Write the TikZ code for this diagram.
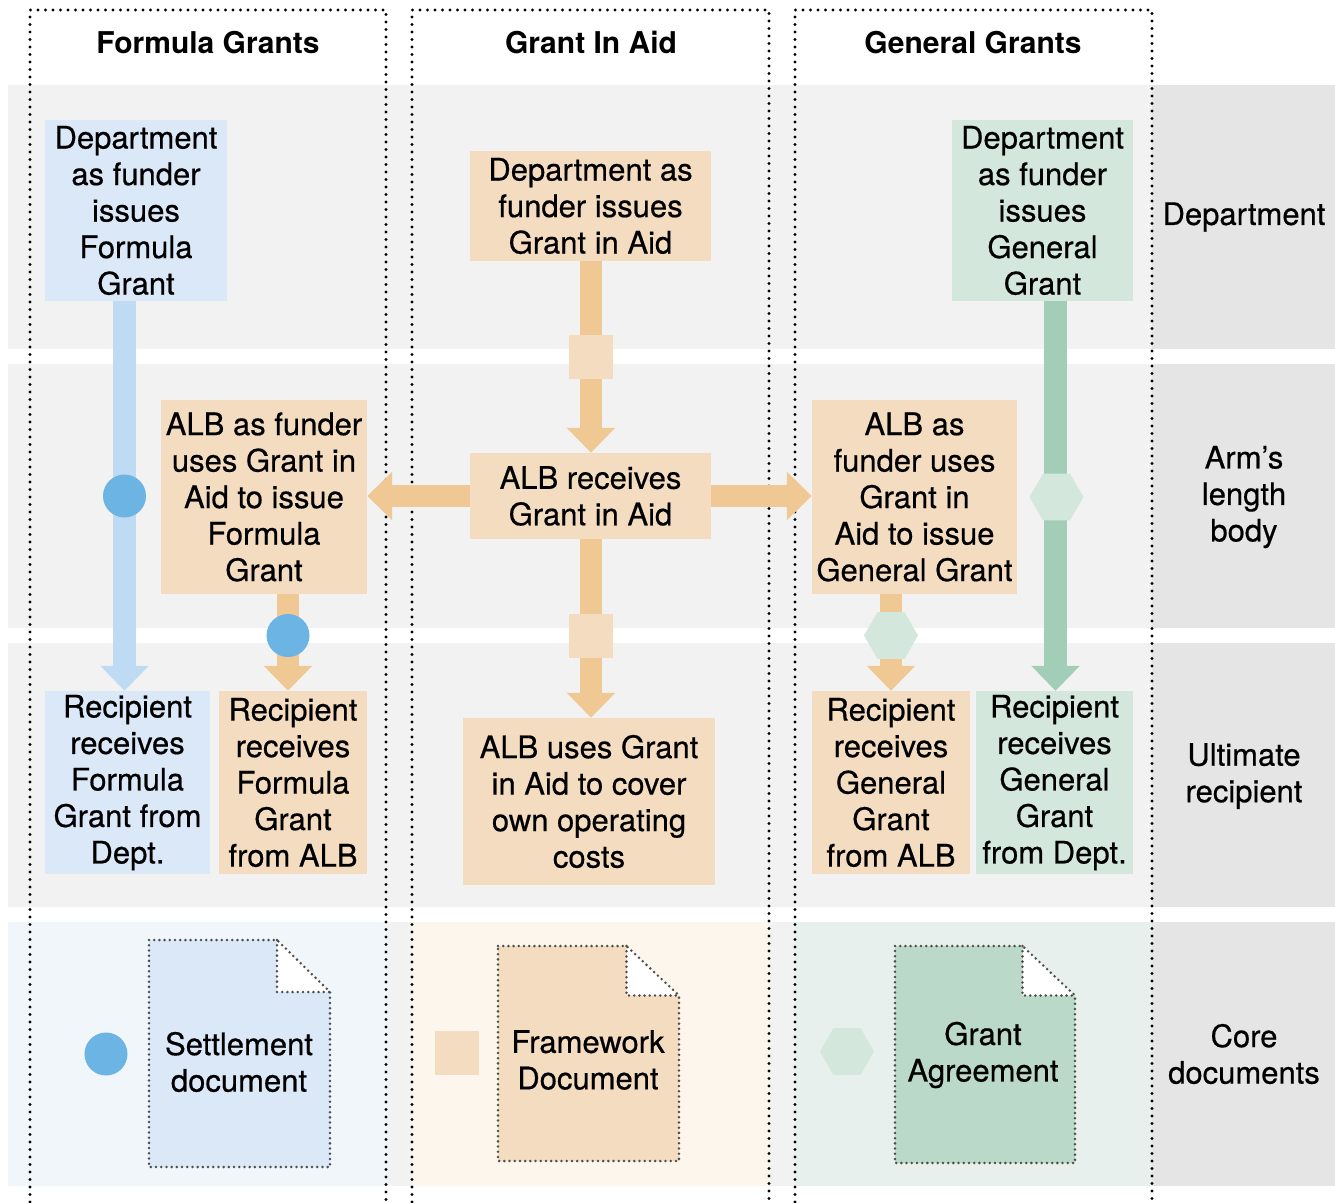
\documentclass[tikz,border=0pt]{standalone}
\usepackage{fontspec}
\setmainfont{TeX Gyre Heros}
\newfontfamily\bodyfont{TeX Gyre Heros}[FakeBold=0.5]
\usetikzlibrary{arrows.meta,shapes.geometric}
\definecolor{bandgray}{HTML}{F2F2F2}
\definecolor{labgray}{HTML}{E5E5E5}
\definecolor{bluebox}{HTML}{DAE8F7}
\definecolor{blueshaft}{HTML}{BFDBF3}
\definecolor{bluedot}{HTML}{6CB4E4}
\definecolor{bluebg}{HTML}{F1F6FB}
\definecolor{creambox}{HTML}{F3DCBF}
\definecolor{orangeshaft}{HTML}{F0C893}
\definecolor{creambg}{HTML}{FDF6EC}
\definecolor{greenbox}{HTML}{D3E7DD}
\definecolor{greenshaft}{HTML}{A2CDB6}
\definecolor{greendoc}{HTML}{BAD9C8}
\definecolor{greenbg}{HTML}{E7F0EC}
\definecolor{docline}{HTML}{4D4D4D}
\newcommand\dogear[7]{%
  \fill[#7] (#1,#2) -- (#5,#2) -- (#3,#6) -- (#3,#4) -- (#1,#4) -- cycle;
  \fill[white] (#5,#2) -- (#5,#6) -- (#3,#6) -- cycle;
  \draw[docdot] (#1,#2) -- (#5,#2) -- (#3,#6) -- (#3,#4) -- (#1,#4) -- cycle;
  \draw[docdot] (#5,#2) -- (#5,#6) -- (#3,#6);
}
\begin{document}
\begin{tikzpicture}[x=1pt,y=-1pt,
  txt/.style={font=\bodyfont\fontsize{31}{36.5}\selectfont, align=center, inner sep=0pt, text=black},
  head/.style={font=\fontsize{30}{36}\selectfont\bfseries, inner sep=0pt},
  box/.style={txt, rectangle, minimum width=#1},
  boxh/.style={minimum height=#1},
  coldot/.style={line width=3.2pt, line cap=round, dash pattern=on 0pt off 7.5pt, black},
  docdot/.style={line width=2.8pt, line cap=round, dash pattern=on 0pt off 5.2pt, docline},
  fat/.style={line width=22.5pt, -{Triangle[length=25pt,width=47pt]}},
  dotmark/.style={circle, fill=bluedot, minimum size=43pt, inner sep=0pt},
  sqmark/.style={rectangle, fill=creambox, minimum size=44pt, inner sep=0pt},
  hexmark/.style={regular polygon, regular polygon sides=6, fill=greenbox, minimum size=54pt, inner sep=0pt}
]
\useasboundingbox (0,0) rectangle (1335,1202);
\fill[white] (0,0) rectangle (1335,1202);
% bands
\foreach \t/\b in {85/349, 364/628, 643/907}{
  \fill[bandgray] (8,\t) rectangle (1152,\b);
  \fill[labgray] (1152,\t) rectangle (1335,\b);
}
\fill[bluebg] (8,922) rectangle (387,1186);
\fill[bandgray] (387,922) rectangle (412,1186);
\fill[creambg] (412,922) rectangle (770,1186);
\fill[bandgray] (770,922) rectangle (795,1186);
\fill[greenbg] (795,922) rectangle (1152,1186);
\fill[labgray] (1152,922) rectangle (1335,1186);
% column frames
\draw[coldot] (30,1202) -- (30,10) -- (386,10) -- (386,1202);
\draw[coldot] (412,1202) -- (412,10) -- (769,10) -- (769,1202);
\draw[coldot] (795,1202) -- (795,10) -- (1152,10) -- (1152,1202);
% headers
\node[head] (h1) at (208,43) {Formula Grants};
\node[head] (h2) at (591,43) {Grant In Aid};
\node[head] (h3) at (973,43) {General Grants};
% row labels
\node[txt] (l1) at (1244,217) {Department};
\node[txt] (l2) at (1244,497) {Arm’s\\length\\body};
\node[txt] (l3) at (1244,776) {Ultimate\\recipient};
\node[txt] (l4) at (1244,1054) {Core\\documents};
% boxes
\node[box=182pt, boxh=181pt, fill=bluebox] (A1) at (136,210.5) {Department\\as funder\\issues\\Formula\\Grant};
\node[box=206pt, boxh=194pt, fill=creambox] (A2) at (264,497) {ALB as funder\\uses Grant in\\Aid to issue\\Formula\\Grant};
\node[box=165pt, boxh=183pt, fill=bluebox] (A3) at (127.5,782.5) {Recipient\\receives\\Formula\\Grant from\\Dept.};
\node[box=148pt, boxh=183pt, fill=creambox] (A4) at (293,782.5) {Recipient\\receives\\Formula\\Grant\\from ALB};
\node[box=241pt, boxh=110pt, fill=creambox] (B1) at (590.5,206) {Department as\\funder issues\\Grant in Aid};
\node[box=241pt, boxh=86pt, fill=creambox] (B2) at (590.5,496) {ALB receives\\Grant in Aid};
\node[box=252pt, boxh=167pt, fill=creambox] (B3) at (589,801.5) {ALB uses Grant\\in Aid to cover\\own operating\\costs};
\node[box=181pt, boxh=181pt, fill=greenbox] (C1) at (1042.5,210.5) {Department\\as funder\\issues\\General\\Grant};
\node[box=205pt, boxh=194pt, fill=creambox] (C2) at (914.5,497) {ALB as\\funder uses\\Grant in\\Aid to issue\\General Grant};
\node[box=158pt, boxh=183pt, fill=creambox] (C3) at (891,782.5) {Recipient\\receives\\General\\Grant\\from ALB};
\node[box=157pt, boxh=183pt, fill=greenbox] (C4) at (1054.5,782.5) {Recipient\\receives\\General\\Grant\\from Dept.};
% shaft positions
\coordinate (sA) at (124.5,0);
\coordinate (sB) at (288,0);
\coordinate (sM) at (591,0);
\coordinate (sC) at (891,0);
\coordinate (sD) at (1055.5,0);
\coordinate (yM) at (0,496);
% connectors
\draw[fat, blueshaft] (A1.south -| sA) -- (A3.north -| sA);
\draw[fat, orangeshaft] (A2.south -| sB) -- (A4.north -| sB);
\draw[fat, orangeshaft] (B1.south -| sM) -- (B2.north -| sM);
\draw[fat, orangeshaft] (B2.south -| sM) -- (B3.north -| sM);
\draw[fat, orangeshaft] (B2.west |- yM) -- (A2.east |- yM);
\draw[fat, orangeshaft] (B2.east |- yM) -- (C2.west |- yM);
\draw[fat, orangeshaft] (C2.south -| sC) -- (C3.north -| sC);
\draw[fat, greenshaft] (C1.south -| sD) -- (C4.north -| sD);
% markers
\node[dotmark] (m1) at (124.5,496) {};
\node[dotmark] (m2) at (288,635.5) {};
\node[sqmark] (m3) at (591,357) {};
\node[sqmark] (m4) at (591,636) {};
\node[hexmark] (m5) at (1056.5,497) {};
\node[hexmark] (m6) at (891,635.5) {};
% core documents
\node[dotmark] (k1) at (106,1054) {};
\node[sqmark] (k2) at (457,1053) {};
\node[hexmark] (k3) at (847,1051.5) {};
\dogear{149}{940}{330}{1167}{277}{992}{bluebox}
\dogear{498}{946}{679}{1161}{626.5}{995.5}{creambox}
\dogear{895}{946}{1075}{1163}{1022.5}{995.5}{greendoc}
\node[txt] (d1) at (239,1062) {Settlement\\document};
\node[txt] (d2) at (588,1060) {Framework\\Document};
\node[txt] (d3) at (983,1055) {Grant\\Agreement};
\end{tikzpicture}
\end{document}
